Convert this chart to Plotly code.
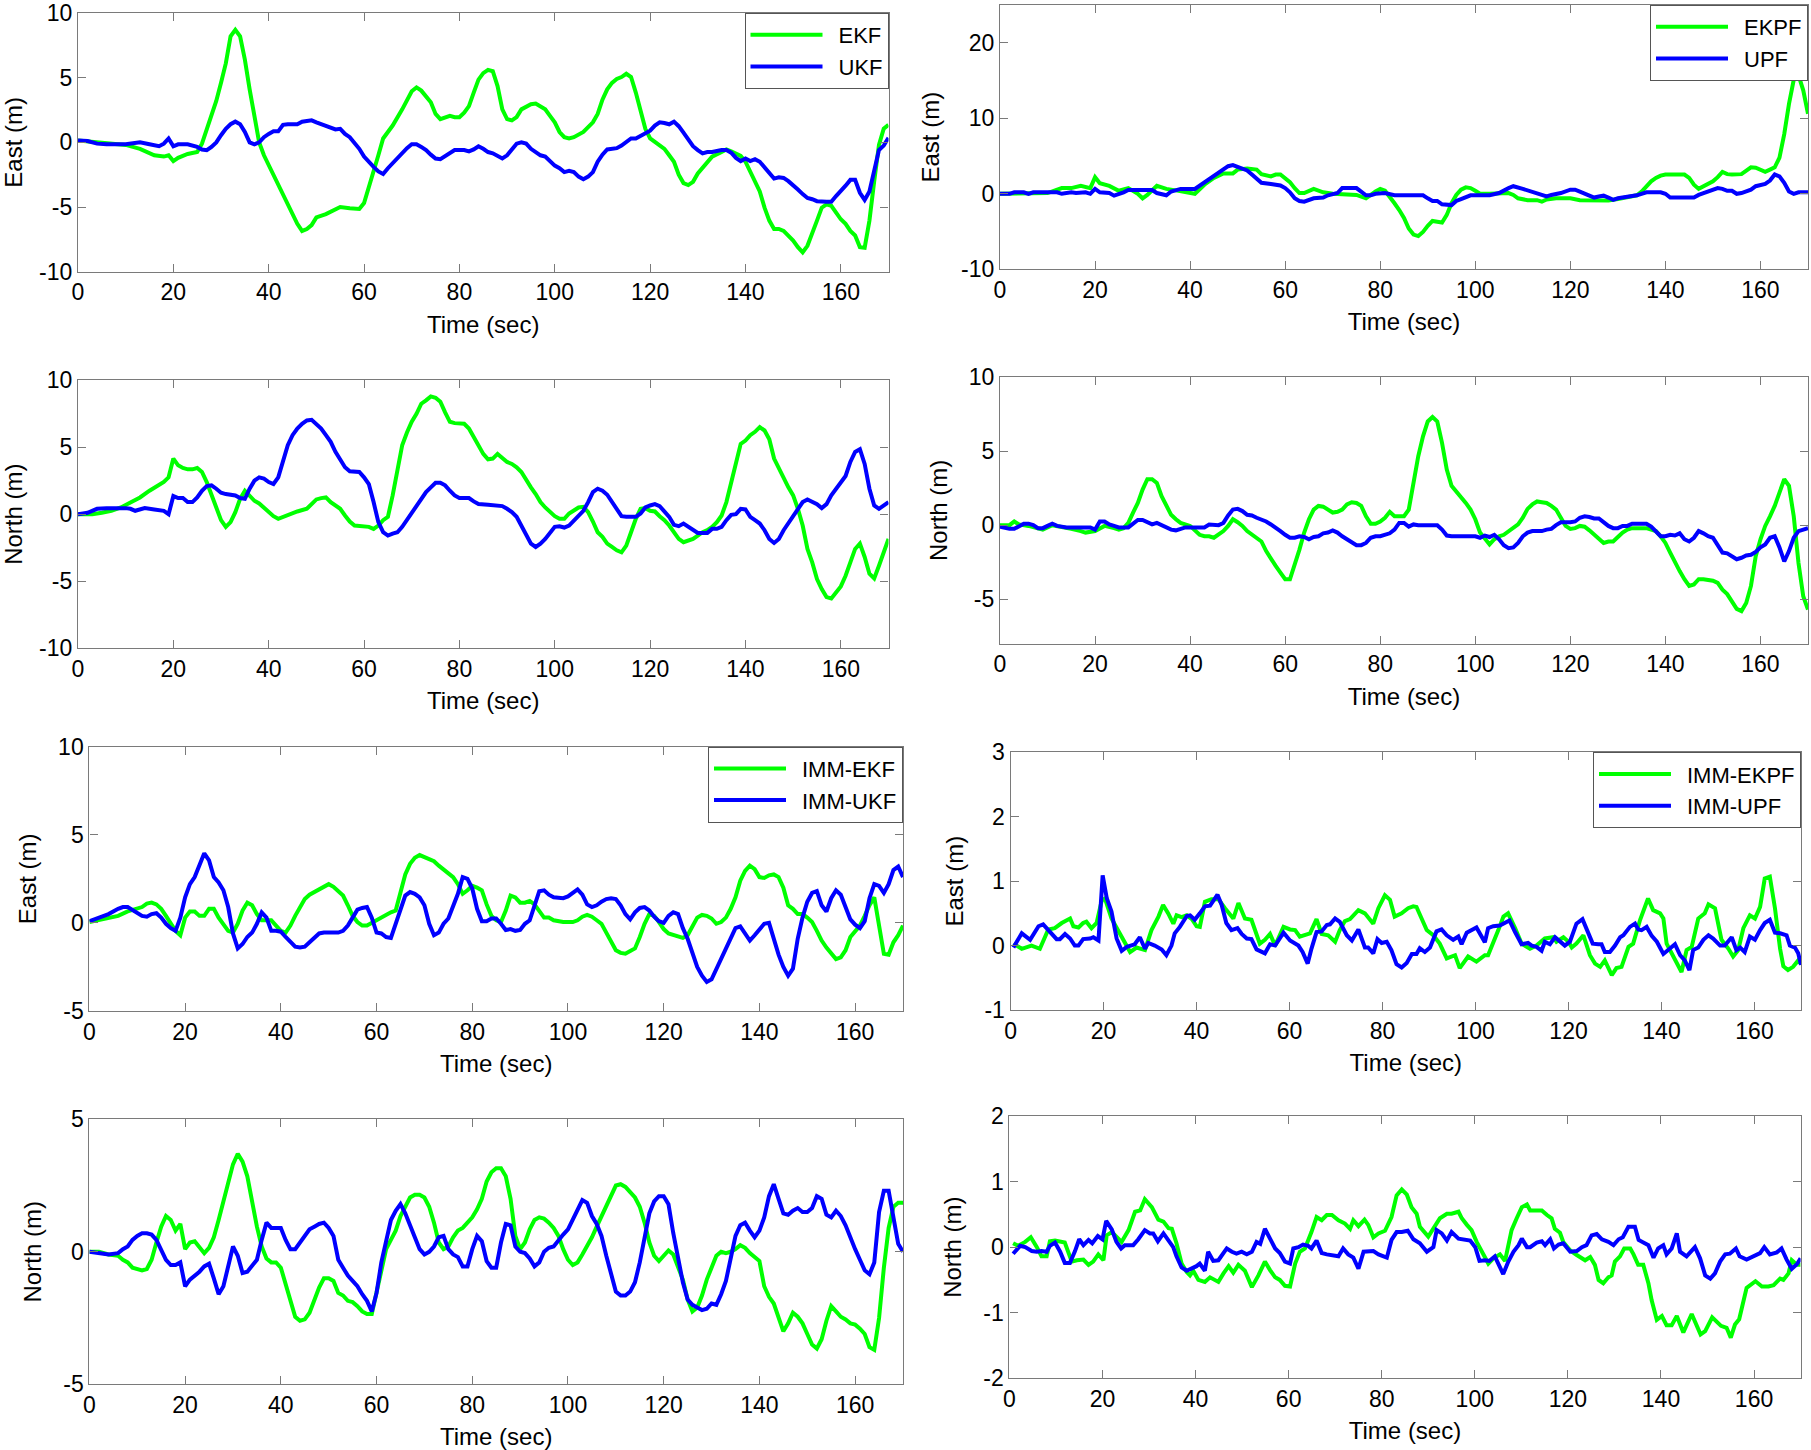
import plotly.graph_objects as go

# ---------------- data (time in s, error in m) ----------------
P1_EKF = [(0,0.15),(5,0.0),(10,-0.2),(13,-0.5),(16,-1.0),(18,-1.1),(19,-1.0),(20,-1.45),(21,-1.2),(23,-0.9),
(25,-0.75),(26,-0.1),(27,1.0),(28,2.0),(29,3.2),(30,4.6),(31,6.1),(32,8.2),(33,8.7),(34,8.2),
(35,6.4),(36,4.1),(37,2.0),(38,0.0),(39,-1.0),(40,-1.75),(42,-3.3),(44,-4.8),(46,-6.3),(47,-6.85),
(48,-6.7),(49,-6.4),(50,-5.8),(52,-5.55),(53,-5.35),(55,-5.0),(57,-5.1),(59,-5.15),(60,-4.7),(61,-3.55),
(62,-2.25),(63,-1.0),(64,0.3),(66,1.3),(68,2.55),(70,3.95),(71,4.25),(72,4.0),(74,3.1),(75,2.2),
(76,1.8),(78,2.05),(79,1.95),(80,1.95),(81,2.3),(82,2.8),(83,3.85),(84,4.85),(85,5.35),(86,5.6),
(87,5.5),(88,4.35),(89,2.55),(90,1.8),(91,1.7),(92,1.95),(93,2.55),(95,2.95),(96,3.0),(97,2.8),
(98,2.55),(99,2.05),(100,1.55),(101,0.8),(102,0.4),(103,0.3),(104,0.4),(106,0.8),(108,1.55),(109,2.2),
(110,3.3),(111,4.1),(112,4.6),(113,4.9),(114,5.05),(115,5.3),(116,5.05),(117,3.85),(118,2.3),(119,1.05),
(120,0.3),(121,0.0),(122,-0.2),(123,-0.5),(124,-1.0),(125,-1.5),(126,-2.5),(127,-3.15),(128,-3.3),(129,-3.05),
(130,-2.4),(132,-1.5),(133,-1.1),(135,-0.75),(136,-0.55),(137,-0.7),(138,-0.85),(139,-1.05),(140,-1.5),(141,-2.25),
(142,-3.0),(143,-3.8),(144,-5.05),(145,-6.05),(146,-6.7),(147,-6.7),(148,-6.85),(149,-7.2),(150,-7.6),(151,-8.1),
(152,-8.5),(153,-8.0),(154,-7.1),(155,-6.05),(156,-5.05),(157,-4.8),(158,-4.9),(159,-5.45),(160,-5.95),(161,-6.3),
(162,-6.85),(163,-7.2),(164,-8.1),(165,-8.15),(166,-6.05),(167,-3.0),(168,-0.2),(169,1.05),(170,1.35)]

P1_UKF = [(0,0.15),(2,0.1),(4,-0.1),(6,-0.15),(10,-0.15),(12,-0.1),(13,0.0),(15,-0.15),(17,-0.3),(18,-0.1),
(19,0.3),(20,-0.3),(21,-0.15),(23,-0.15),(25,-0.35),(26,-0.55),(27,-0.6),(28,-0.35),(29,0.0),(30,0.55),
(31,1.05),(32,1.4),(33,1.6),(34,1.4),(35,0.8),(36,0.0),(37,-0.15),(38,0.0),(39,0.4),(40,0.65),
(41,0.85),(42,0.85),(43,1.35),(44,1.4),(46,1.4),(47,1.6),(49,1.7),(50,1.55),(52,1.25),(54,1.0),
(55,1.05),(56,0.65),(57,0.4),(58,0.0),(59,-0.5),(60,-1.1),(61,-1.55),(62,-1.9),(63,-2.25),(64,-2.45),
(65,-2.0),(66,-1.6),(67,-1.25),(68,-0.75),(69,-0.45),(70,-0.15),(71,-0.15),(72,-0.35),(73,-0.6),(74,-0.95),
(75,-1.25),(76,-1.3),(77,-1.05),(78,-0.85),(79,-0.6),(81,-0.6),(82,-0.7),(83,-0.55),(84,-0.3),(85,-0.5),
(86,-0.75),(87,-0.85),(88,-1.05),(89,-1.25),(90,-1.0),(91,-0.6),(92,-0.1),(93,0.0),(94,-0.1),(95,-0.5),
(96,-0.75),(97,-1.0),(98,-1.1),(99,-1.5),(100,-1.8),(101,-2.0),(102,-2.3),(103,-2.2),(104,-2.3),(105,-2.65),
(106,-2.85),(107,-2.65),(108,-2.3),(109,-1.5),(110,-0.95),(111,-0.55),(113,-0.45),(114,-0.25),(115,0.0),(116,0.3),
(117,0.3),(118,0.5),(119,0.65),(120,0.9),(121,1.3),(122,1.55),(123,1.5),(124,1.4),(125,1.6),(126,1.25),
(127,0.75),(128,0.25),(129,-0.3),(130,-0.6),(131,-0.85),(132,-0.75),(133,-0.75),(135,-0.6),(136,-0.6),(137,-0.8),
(138,-1.2),(139,-1.45),(140,-1.25),(141,-1.45),(142,-1.3),(143,-1.5),(144,-1.9),(145,-2.4),(146,-2.8),(147,-2.7),
(148,-2.75),(149,-3.0),(150,-3.3),(151,-3.65),(152,-4.0),(153,-4.3),(154,-4.4),(155,-4.55),(157,-4.6),(158,-4.6),
(159,-4.15),(160,-3.8),(161,-3.35),(162,-2.9),(163,-2.9),(164,-3.9),(165,-4.45),(166,-3.8),(167,-2.25),(168,-0.6),
(169,-0.25),(170,0.35)]

P2_EKPF = [(0,0),(5,0),(10,0.1),(13,0.75),(15,0.75),(17,1.05),(19,0.75),(20,2.2),(21,1.4),(23,1.05),
(25,0.4),(27,0.75),(29,0),(30,-0.6),(31,-0.15),(33,1.05),(35,0.65),(37,0.45),(40,0.2),(41,0),
(43,1.2),(45,2.1),(47,2.7),(49,2.7),(50,3.2),(52,3.35),(54,3.2),(55,2.6),(57,2.3),(58,2.55),
(59,2.55),(60,2.1),(61,1.55),(62,0.75),(63,0.1),(64,0.1),(66,0.65),(68,0.2),(70,0),(75,-0.15),
(77,-0.6),(79,0.3),(80,0.65),(81,0.4),(82,-0.35),(83,-1.25),(84,-2.15),(85,-3.2),(86,-4.6),(87,-5.4),
(88,-5.6),(89,-5.05),(90,-4.25),(91,-3.6),(92,-3.7),(93,-3.8),(94,-2.8),(95,-1.25),(96,-0.15),(97,0.55),
(98,0.85),(99,0.75),(100,0.4),(101,0),(103,0),(105,0),(107,0.1),(108,-0.15),(109,-0.6),(111,-0.85),
(113,-0.85),(114,-1.05),(115,-0.75),(117,-0.6),(120,-0.6),(122,-0.85),(125,-0.9),(128,-0.9),(130,-0.7),(132,-0.5),
(134,-0.2),(135,0.3),(136,1.0),(137,1.65),(138,2.1),(139,2.4),(140,2.55),(142,2.55),(144,2.55),(145,2.1),
(146,1.2),(147,0.65),(148,1.0),(149,1.2),(150,1.65),(151,2.2),(152,2.9),(153,2.6),(154,2.55),(156,2.6),
(158,3.5),(159,3.45),(160,3.2),(161,2.9),(162,3.2),(163,3.5),(164,4.8),(165,7.9),(166,11.9),(167,15.1),
(168,15.7),(169,13.7),(170,10.6)]

P2_UPF = [(0,0),(2,0),(3,0.2),(5,0.2),(6,0),(7,0.2),(12,0.2),(13,0),(15,0.2),(16,0.1),
(18,0.2),(19,0),(20,0.65),(21,0.2),(23,0.1),(24,-0.25),(26,0.2),(27,0.5),(30,0.5),(32,0.5),
(33,0.1),(35,-0.2),(36,0.3),(38,0.65),(41,0.65),(42,1.1),(44,1.9),(46,2.75),(48,3.65),(49,3.8),
(50,3.55),(52,3.1),(53,2.55),(54,2.0),(55,1.45),(57,1.3),(59,1.1),(60,0.75),(61,0.2),(62,-0.6),
(63,-0.95),(64,-1.05),(65,-0.8),(66,-0.6),(68,-0.5),(69,-0.2),(71,0.1),(72,0.75),(75,0.75),(76,0.2),
(77,-0.2),(78,-0.2),(79,0),(81,0.1),(83,-0.2),(86,-0.2),(89,-0.2),(90,-0.6),(91,-0.95),(92,-0.95),
(93,-1.4),(95,-1.5),(96,-0.95),(97,-0.7),(99,-0.2),(103,-0.2),(105,0.1),(107,0.75),(108,1.0),(110,0.65),
(112,0.2),(114,-0.15),(115,-0.35),(116,-0.15),(118,0.1),(120,0.55),(121,0.55),(122,0.3),(124,-0.15),(125,-0.5),
(126,-0.35),(127,-0.25),(128,-0.5),(129,-0.8),(130,-0.6),(132,-0.35),(134,-0.2),(136,0.2),(139,0.2),(140,0),
(141,-0.5),(143,-0.5),(146,-0.5),(147,-0.15),(149,0.3),(151,0.75),(152,0.65),(153,0.4),(154,0.4),(155,0),
(156,0.1),(158,0.55),(159,1.0),(161,1.3),(162,1.75),(163,2.55),(164,2.3),(165,1.45),(166,0.3),(167,0),
(168,0.2),(170,0.2)]

P3_EKF = [(0,0),(3,0),(5,0.1),(7,0.25),(9,0.5),(11,0.9),(13,1.25),(15,1.75),(17,2.15),(18,2.4),
(19,2.75),(20,4.15),(21,3.65),(22,3.45),(23,3.35),(24,3.35),(25,3.45),(26,3.15),(27,2.4),(28,1.4),
(29,0.4),(30,-0.45),(31,-0.95),(32,-0.6),(33,0.15),(34,1.15),(35,1.75),(36,1.4),(37,1.0),(38,0.8),
(40,0.2),(41,-0.15),(42,-0.35),(43,-0.2),(45,0.05),(46,0.2),(48,0.4),(50,1.1),(51,1.2),(52,1.25),
(53,0.9),(55,0.4),(56,-0.1),(57,-0.55),(58,-0.85),(60,-0.9),(61,-0.95),(62,-1.1),(63,-0.85),(64,-0.45),
(65,-0.2),(66,1.4),(67,3.4),(68,5.15),(69,6.1),(70,6.9),(71,7.5),(72,8.25),(73,8.5),(74,8.8),
(75,8.7),(76,8.4),(77,7.6),(78,6.9),(79,6.8),(80,6.8),(81,6.75),(82,6.4),(83,5.75),(84,5.15),
(85,4.5),(86,4.1),(87,4.15),(88,4.5),(89,4.15),(90,3.9),(91,3.75),(92,3.5),(93,3.15),(94,2.5),
(95,2.0),(96,1.5),(97,0.9),(98,0.5),(99,0.15),(100,-0.15),(101,-0.35),(102,-0.35),(103,0.05),(104,0.25),
(105,0.5),(106,0.55),(107,0.15),(108,-0.55),(109,-1.35),(110,-1.7),(111,-2.2),(112,-2.45),(113,-2.7),(114,-2.85),
(115,-2.35),(116,-1.35),(117,-0.35),(118,0.4),(119,0.45),(120,0.25),(121,0.2),(122,-0.15),(123,-0.45),(124,-0.85),
(125,-1.4),(126,-1.85),(127,-2.1),(128,-1.95),(129,-1.85),(130,-1.6),(131,-1.35),(132,-1.2),(133,-0.95),(134,-0.6),
(135,-0.1),(136,0.9),(137,2.4),(138,3.65),(139,5.25),(140,5.5),(141,5.9),(142,6.15),(143,6.5),(144,6.25),
(145,5.6),(146,4.15),(147,3.4),(148,2.65),(149,2.0),(150,1.4),(151,0.4),(152,-0.85),(153,-2.6),(154,-3.6),
(155,-4.85),(156,-5.6),(157,-6.2),(158,-6.3),(159,-5.85),(160,-5.4),(161,-4.6),(162,-3.6),(163,-2.6),(164,-2.2),
(165,-3.2),(166,-4.45),(167,-4.8),(168,-3.85),(169,-2.85),(170,-1.85)]

P3_UKF = [(0,0),(2,0.1),(4,0.4),(6,0.45),(10,0.45),(11,0.4),(12,0.25),(14,0.45),(16,0.35),(18,0.25),
(19,0),(20,1.35),(21,1.2),(22,1.2),(23,0.9),(24,0.9),(25,1.25),(26,1.75),(27,2.1),(28,2.15),
(29,1.9),(30,1.6),(31,1.5),(32,1.45),(33,1.4),(34,1.2),(35,1.15),(36,1.9),(37,2.5),(38,2.75),
(39,2.65),(40,2.4),(41,2.25),(42,2.75),(43,3.9),(44,5.15),(45,5.9),(46,6.4),(47,6.75),(48,7.0),
(49,7.05),(50,6.75),(51,6.4),(52,5.9),(53,5.4),(54,4.65),(55,4.0),(56,3.5),(57,3.2),(58,3.2),
(59,3.15),(60,2.75),(61,2.25),(62,0.9),(63,-0.6),(64,-1.35),(65,-1.6),(66,-1.45),(67,-1.35),(68,-0.95),
(69,-0.45),(70,0.15),(71,0.65),(72,1.15),(73,1.65),(74,2.0),(75,2.35),(76,2.35),(77,2.15),(78,1.75),
(79,1.4),(80,1.2),(82,1.2),(83,0.95),(84,0.75),(86,0.7),(87,0.65),(89,0.6),(90,0.4),(91,0.15),
(92,-0.2),(93,-0.85),(94,-1.6),(95,-2.2),(96,-2.45),(97,-2.2),(98,-1.85),(99,-1.45),(100,-0.95),(101,-0.9),
(102,-1.0),(103,-0.85),(104,-0.45),(105,-0.05),(106,0.25),(107,0.9),(108,1.65),(109,1.9),(110,1.75),(111,1.45),
(112,0.9),(113,0.4),(114,-0.15),(115,-0.2),(117,-0.2),(118,0.05),(119,0.5),(120,0.65),(121,0.75),(122,0.6),
(123,0.25),(124,-0.2),(125,-0.8),(126,-0.9),(127,-0.7),(128,-0.95),(129,-1.2),(130,-1.4),(132,-1.4),(133,-1.1),
(134,-1.1),(135,-0.95),(136,-0.45),(137,-0.05),(138,0.0),(139,0.4),(140,0.35),(141,-0.2),(142,-0.45),(143,-0.7),
(144,-1.2),(145,-1.85),(146,-2.15),(147,-1.85),(148,-1.2),(149,-0.7),(150,-0.2),(151,0.4),(152,0.9),(153,1.1),
(154,0.95),(155,0.75),(156,0.45),(157,0.75),(158,1.4),(159,1.9),(160,2.4),(161,2.85),(162,3.9),(163,4.65),
(164,4.85),(165,3.75),(166,1.9),(167,0.65),(168,0.4),(169,0.65),(170,0.9)]

P4_EKPF = [(0,0),(2,0),(3,0.25),(4,0.05),(6,-0.05),(8,-0.25),(9,-0.3),(11,0),(13,-0.1),(15,-0.25),
(17,-0.4),(18,-0.5),(20,-0.4),(21,-0.2),(22,-0.05),(24,-0.2),(25,-0.3),(26,-0.2),(27,0.15),(28,0.85),
(29,1.5),(30,2.4),(31,3.1),(32,3.1),(33,2.85),(34,1.95),(35,1.3),(36,0.7),(37,0.4),(38,0.15),
(40,-0.05),(41,-0.4),(42,-0.65),(43,-0.75),(44,-0.75),(45,-0.85),(46,-0.65),(47,-0.4),(48,-0.05),(49,0.4),
(50,0.2),(51,-0.05),(52,-0.4),(53,-0.65),(54,-0.85),(55,-1.1),(56,-1.75),(57,-2.3),(58,-2.75),(59,-3.2),
(60,-3.65),(61,-3.65),(62,-2.75),(63,-1.65),(64,-0.5),(65,0.4),(66,1.05),(67,1.3),(68,1.25),(69,1.05),
(70,0.85),(71,0.9),(72,1.05),(73,1.4),(74,1.55),(75,1.5),(76,1.3),(77,0.6),(78,0.1),(79,0.1),
(80,0.25),(81,0.5),(82,0.9),(83,0.6),(84,0.6),(85,0.6),(86,1.05),(87,2.85),(88,4.65),(89,6.0),
(90,7.0),(91,7.3),(92,7.0),(93,5.55),(94,3.75),(95,2.65),(96,2.3),(97,1.95),(98,1.5),(99,1.05),
(100,0.4),(101,-0.5),(102,-0.95),(103,-1.3),(104,-0.95),(105,-0.75),(106,-0.65),(107,-0.4),(108,-0.2),(109,0.05),
(110,0.5),(111,1.1),(112,1.4),(113,1.6),(114,1.55),(115,1.5),(116,1.3),(117,1.05),(118,0.5),(119,-0.05),
(120,-0.25),(121,-0.2),(122,-0.05),(123,-0.1),(124,-0.35),(125,-0.65),(126,-0.95),(127,-1.2),(128,-1.1),(129,-1.1),
(130,-0.8),(131,-0.5),(132,-0.3),(133,-0.2),(136,-0.2),(137,-0.3),(138,-0.4),(139,-0.75),(140,-1.2),(141,-1.85),
(142,-2.55),(143,-3.1),(144,-3.65),(145,-4.1),(146,-4.0),(147,-3.65),(148,-3.65),(150,-3.75),(151,-3.9),(152,-4.35),
(153,-4.65),(154,-5.1),(155,-5.65),(156,-5.8),(157,-5.25),(158,-4.1),(159,-2.1),(160,-0.95),(161,-0.05),(162,0.6),
(163,1.3),(164,2.2),(165,3.1),(166,2.65),(167,0.6),(168,-2.55),(169,-4.8),(170,-5.7)]

P4_UPF = [(0,-0.1),(2,-0.25),(3,-0.25),(4,-0.05),(5,0.1),(6,0.1),(7,0),(8,-0.2),(9,-0.2),(10,-0.05),
(11,0.1),(12,-0.05),(14,-0.15),(17,-0.15),(19,-0.15),(20,-0.3),(21,0.25),(22,0.25),(23,0.05),(24,-0.05),
(25,-0.15),(27,-0.15),(28,0.1),(29,0.35),(30,0.35),(31,0.2),(32,0.05),(33,0.15),(34,0),(35,-0.1),
(36,-0.3),(37,-0.35),(38,-0.25),(39,-0.15),(43,-0.15),(44,0.05),(46,0),(47,0.15),(48,0.65),(49,1.05),
(50,1.1),(51,0.95),(52,0.7),(53,0.65),(54,0.5),(55,0.4),(56,0.25),(57,0.05),(58,-0.15),(59,-0.4),
(60,-0.65),(61,-0.85),(62,-0.85),(63,-0.75),(64,-0.8),(65,-0.95),(66,-0.8),(67,-0.75),(68,-0.55),(69,-0.5),
(70,-0.35),(71,-0.5),(72,-0.75),(73,-0.95),(74,-1.2),(75,-1.35),(76,-1.35),(77,-1.2),(78,-0.85),(79,-0.75),
(80,-0.75),(81,-0.65),(82,-0.55),(83,-0.3),(84,0.15),(85,0.15),(86,-0.1),(87,0.05),(88,0),(92,0),
(93,-0.3),(94,-0.7),(95,-0.75),(100,-0.75),(101,-0.85),(102,-0.7),(103,-0.8),(104,-0.65),(105,-0.95),(106,-1.35),
(107,-1.55),(108,-1.5),(109,-1.2),(110,-0.75),(111,-0.5),(112,-0.4),(114,-0.4),(115,-0.3),(116,-0.25),(117,0),
(118,0.2),(120,0.2),(121,0.25),(122,0.5),(123,0.6),(124,0.55),(125,0.45),(126,0.45),(127,0.2),(128,-0.05),
(129,-0.2),(130,-0.2),(131,-0.05),(132,-0.05),(133,0.1),(136,0.1),(137,-0.1),(138,-0.4),(139,-0.75),(140,-0.75),
(141,-0.65),(142,-0.7),(143,-0.55),(144,-0.95),(145,-1.1),(146,-0.85),(147,-0.4),(148,-0.55),(149,-0.75),(150,-0.85),
(151,-1.35),(152,-1.85),(153,-1.9),(154,-2.1),(155,-2.3),(156,-2.2),(157,-2.05),(158,-2.0),(159,-1.8),(160,-1.5),
(161,-1.3),(162,-0.85),(163,-0.75),(164,-1.5),(165,-2.45),(166,-1.75),(167,-0.85),(168,-0.4),(169,-0.3),(170,-0.2)]

P5_EKF = [(0,0.05),(2,0.15),(4,0.25),(6,0.4),(8,0.65),(10,0.8),(11,0.9),(12,1.1),(13,1.15),(14,1.05),
(15,0.8),(16,0.4),(17,-0.05),(18,-0.45),(19,-0.7),(20,0.3),(21,0.65),(22,0.65),(23,0.4),(24,0.4),
(25,0.8),(26,0.8),(27,0.3),(28,-0.05),(29,-0.45),(30,-0.55),(31,-0.05),(32,0.7),(33,1.15),(34,1.0),
(35,0.5),(36,0.15),(38,0.15),(39,-0.15),(40,-0.45),(41,-0.55),(42,-0.15),(43,0.4),(44,0.9),(45,1.35),
(46,1.6),(47,1.75),(48,1.9),(49,2.1),(50,2.2),(51,2.05),(52,1.8),(53,1.55),(54,1.0),(55,0.4),
(56,0.05),(57,-0.15),(58,-0.15),(59,0),(60,0.15),(61,0.3),(62,0.5),(63,0.6),(64,0.7),(65,1.8),
(66,2.75),(67,3.35),(68,3.7),(69,3.85),(70,3.75),(71,3.6),(72,3.5),(73,3.25),(74,3.05),(75,2.85),
(76,2.6),(77,2.2),(78,1.65),(79,1.85),(80,2.1),(81,2.0),(82,1.85),(83,1.05),(84,0.4),(85,0.15),
(86,0.05),(87,0.7),(88,1.55),(89,1.45),(90,1.15),(91,1.15),(92,1.25),(93,1.05),(94,0.7),(95,0.3),
(96,0.3),(97,0.15),(99,0.05),(101,0.05),(102,0.15),(103,0.35),(104,0.45),(105,0.35),(106,0.15),(107,-0.05),
(108,-0.55),(109,-1.1),(110,-1.55),(111,-1.7),(112,-1.75),(113,-1.6),(114,-1.45),(115,-0.8),(116,-0.05),(117,0.5),
(118,0.4),(119,0.05),(120,-0.35),(121,-0.6),(122,-0.7),(123,-0.75),(124,-0.85),(125,-0.7),(126,-0.25),(127,0.3),
(128,0.45),(129,0.4),(130,0.25),(131,-0.05),(132,0.05),(133,0.3),(134,0.8),(135,1.45),(136,2.4),(137,2.95),
(138,3.25),(139,3.05),(140,2.6),(141,2.55),(142,2.7),(143,2.75),(144,2.6),(145,2.0),(146,1.0),(147,0.8),
(148,0.5),(149,0.5),(150,0.3),(151,0.05),(152,-0.45),(153,-1.0),(154,-1.4),(155,-1.75),(156,-2.05),(157,-1.95),
(158,-1.55),(159,-0.8),(160,-0.45),(161,-0.15),(162,0.4),(163,1.0),(164,1.45),(165,-0.05),(166,-1.75),(167,-1.8),
(168,-1.1),(169,-0.7),(170,-0.15)]

P5_UKF = [(0,0.1),(2,0.3),(4,0.5),(6,0.8),(7,0.9),(8,0.9),(9,0.75),(10,0.55),(11,0.4),(12,0.35),
(13,0.5),(14,0.55),(15,0.3),(16,-0.05),(17,-0.3),(18,-0.45),(19,0.3),(20,1.45),(21,2.2),(22,2.6),
(23,3.35),(24,3.95),(25,3.55),(26,2.6),(27,2.3),(28,1.85),(29,0.9),(30,-0.6),(31,-1.45),(32,-1.2),
(33,-0.8),(34,-0.55),(35,-0.05),(36,0.6),(37,0.3),(38,-0.45),(39,-0.45),(40,-0.5),(41,-0.8),(42,-1.1),
(43,-1.35),(44,-1.4),(45,-1.35),(46,-1.1),(47,-0.85),(48,-0.6),(49,-0.55),(52,-0.55),(53,-0.45),(54,-0.15),
(55,0.3),(56,0.75),(57,0.85),(58,0.9),(59,0.3),(60,-0.55),(61,-0.6),(62,-0.8),(63,-0.85),(64,-0.05),
(65,0.7),(66,1.55),(67,1.75),(68,1.65),(69,1.45),(70,1.0),(71,-0.05),(72,-0.7),(73,-0.55),(74,-0.05),
(75,0.25),(76,1.0),(77,1.65),(78,2.6),(79,2.5),(80,1.95),(81,0.8),(82,0.1),(83,0.1),(84,0.25),
(85,0.25),(86,-0.05),(87,-0.4),(88,-0.35),(89,-0.45),(90,-0.4),(91,-0.05),(92,0.15),(93,0.9),(94,1.8),
(95,1.85),(96,1.6),(97,1.45),(98,1.4),(99,1.4),(100,1.5),(101,1.7),(102,1.9),(103,1.6),(104,1.05),
(105,0.9),(106,1.0),(107,1.2),(108,1.35),(109,1.4),(110,1.35),(111,1.0),(112,0.5),(113,0.2),(114,0.6),
(115,0.85),(116,0.9),(117,0.7),(118,0.35),(119,0.1),(120,0.0),(121,0.4),(122,0.6),(123,0.5),(124,-0.3),
(125,-0.9),(126,-1.7),(127,-2.5),(128,-3.0),(129,-3.35),(130,-3.2),(131,-2.6),(132,-2.0),(133,-1.5),(134,-0.8),
(135,-0.3),(136,-0.2),(137,-0.6),(138,-1.0),(139,-0.7),(140,-0.4),(141,-0.05),(142,0.0),(143,-0.9),(144,-1.8),
(145,-2.5),(146,-3.0),(147,-2.6),(148,-0.9),(149,0.3),(150,1.2),(151,1.7),(152,1.8),(153,1.0),(154,0.65),
(155,1.4),(156,1.85),(157,1.6),(158,0.9),(159,0.2),(160,-0.1),(161,-0.3),(162,0.1),(163,1.4),(164,2.2),
(165,2.1),(166,1.7),(167,2.2),(168,3.0),(169,3.2),(170,2.6)]

P6_EKPF = [(0.6,0.03),(2.4,-0.05),(4.5,0.0),(6.3,-0.05),(8.1,0.25),(9.5,0.27),(11,0.35),(12.8,0.42),(13.5,0.3),(14.6,0.28),
(15.6,0.35),(16.3,0.37),(17.4,0.27),(18.5,0.35),(19.6,0.7),(20.3,0.73),(21.7,0.42),(23.5,0.19),(24.6,0.03),(25.7,-0.1),
(27.1,-0.03),(28.9,-0.07),(30.3,0.24),(31.8,0.45),(32.8,0.63),(33.9,0.5),(35,0.34),(35.7,0.47),(36.8,0.44),(37.9,0.47),
(39,0.41),(40,0.3),(40.7,0.29),(41.8,0.68),(43.2,0.72),(44.7,0.72),(46.1,0.58),(47.9,0.42),(49,0.66),(50.4,0.42),
(51.8,0.4),(53.6,0.03),(54.7,0.09),(55.8,0.18),(56.9,0),(58.7,0.29),(60.1,0.25),(61.2,0.24),(62.2,0.14),(63.3,0.16),
(64.4,0.19),(65.8,0.41),(66.9,0.18),(68.3,0.16),(69.8,0.06),(70.8,0.24),(71.9,0.38),(73,0.41),(74.8,0.55),(76.2,0.5),
(78,0.34),(79.1,0.58),(80.5,0.78),(81.6,0.71),(82.6,0.45),(84.1,0.5),(85.5,0.58),(86.6,0.61),(87.3,0.6),(88.4,0.42),
(89.5,0.24),(90.9,0.16),(92.3,0.03),(93.8,-0.2),(95.6,-0.15),(96.6,-0.35),(98.4,-0.17),(100.2,-0.25),(102,-0.15),(102.7,-0.15),
(103.8,0.03),(104.9,0.24),(106,0.45),(107,0.5),(108.5,0.27),(109.9,0.03),(111.7,-0.05),(113.1,0),(114.9,0.11),(116.7,0.13),
(117.4,0.06),(118.9,0.13),(120,0.06),(120.7,-0.03),(121.7,0.03),(123.2,0.16),(124.6,-0.15),(125.7,-0.28),(126.8,-0.33),(127.8,-0.23),
(129.3,-0.46),(130.3,-0.35),(131.4,-0.33),(132.9,-0.02),(133.9,0.03),(135.4,0.4),(137.1,0.73),(138.2,0.55),(139.7,0.5),(140.4,0.42),
(141.1,0.03),(142.5,-0.17),(144.3,-0.41),(145.4,-0.07),(146.5,-0.02),(147.9,0.42),(149.3,0.5),(150.1,0.64),(151.5,0.58),(152.9,0.09),
(154.4,-0.05),(155.4,-0.17),(156.5,-0.07),(157.6,0.27),(159,0.47),(160.1,0.42),(161.2,0.6),(162.2,1.04),(163.3,1.07),(164.4,0.58),
(165.5,-0.05),(166.2,-0.32),(167.2,-0.38),(168.3,-0.33),(169.4,-0.23),(170,-0.28)]

P6_UPF = [(0.6,-0.03),(2.4,0.19),(4.2,0.09),(6,0.3),(7,0.33),(8.1,0.24),(9.9,0.1),(10.6,0.1),(11.7,0.18),(12.8,0.11),
(13.8,0),(14.6,0),(15.6,0.1),(17.1,0.11),(17.8,0.13),(18.9,0.08),(19.8,1.09),(20.7,0.73),(21.7,0.53),(22.8,0.11),
(23.9,-0.08),(25,-0.02),(25.7,0),(26.7,0.02),(27.8,0.13),(28.9,-0.05),(29.6,0.04),(31,0),(32.5,-0.06),(33.5,-0.15),
(34.6,0),(35.3,0.19),(36.4,0.29),(37.9,0.46),(38.6,0.47),(39.6,0.4),(40.7,0.5),(41.8,0.61),(42.9,0.62),(44.5,0.79),
(45.4,0.63),(46.4,0.35),(47.5,0.24),(48.8,0.27),(49.7,0.18),(50.8,0.11),(51.8,0.1),(52.9,-0.06),(54.7,-0.12),(55.8,0.02),
(56.9,0),(58.7,0.2),(60.1,0.08),(61.9,0),(62.8,-0.1),(63.9,-0.28),(64.7,-0.05),(65.8,0.21),(66.9,0.22),(68,0.32),
(68.7,0.33),(69.8,0.42),(70.8,0.37),(72.3,0.16),(73.4,0.08),(74.8,0.25),(76.2,-0.03),(76.9,-0.03),(78,-0.12),(78.9,0.1),
(79.8,0.04),(80.9,0.06),(81.9,-0.07),(83,-0.29),(84.1,-0.34),(85.2,-0.27),(86.3,-0.13),(87.3,-0.13),(88,-0.04),(89.1,-0.1),
(90.2,-0.03),(91.6,0.22),(92.7,0.25),(93.8,0.16),(95.2,0.09),(96.3,0.14),(97,0.02),(98.1,0.2),(100.2,0.28),(102,0.05),
(102.7,0.27),(103.8,0.3),(105.2,0.31),(106.3,0.35),(107.3,0.39),(108.5,0.21),(109.9,0.02),(111.3,0.04),(112.1,0),(113.1,-0.02),
(114.2,-0.08),(114.9,0.06),(116,0.02),(117.1,0.13),(118.1,0.06),(119.2,0),(120.3,0.06),(121.7,0.34),(123,0.41),(123.9,0.24),
(125.2,0.03),(126.4,0.02),(127.1,0.02),(127.8,-0.1),(128.9,-0.1),(130,0),(131.1,0.13),(131.8,0.16),(133.2,0.29),(134.3,0.34),
(135,0.25),(135.7,0.24),(136.8,0.29),(137.9,0.15),(139,0.06),(140.4,-0.13),(141.4,-0.07),(142.9,0.02),(144,-0.15),(145,-0.23),
(146,-0.38),(146.8,-0.07),(147.9,-0.03),(149,0.09),(150.1,0.16),(151.1,0.11),(152.6,0),(153.6,0),(155.1,0.13),(156.1,-0.07),
(156.9,-0.03),(157.9,-0.1),(159,0.14),(160.1,0.09),(161.2,0.24),(162.2,0.35),(163.3,0.4),(164.4,0.2),(165.5,0.19),(166.9,0.16),
(167.6,0),(168.7,-0.03),(169.4,-0.12),(170,-0.3)]

P7_EKF = [(0,0),(2,0),(4,-0.1),(6,-0.15),(7,-0.3),(8,-0.4),(9,-0.6),(10,-0.65),(11,-0.7),(12,-0.65),
(13,-0.3),(14,0.35),(15,0.95),(16,1.35),(17,1.2),(18,0.8),(19,1.05),(20,0.1),(21,0.35),(22,0.4),
(23,0.2),(24,-0.05),(25,0.15),(26,0.55),(27,1.2),(28,1.95),(29,2.6),(30,3.3),(31,3.7),(32,3.4),
(33,2.85),(34,1.85),(35,0.95),(36,0.2),(37,-0.25),(38,-0.4),(39,-0.4),(40,-0.6),(41,-1.2),(42,-1.8),
(43,-2.45),(44,-2.6),(45,-2.55),(46,-2.3),(47,-1.8),(48,-1.35),(49,-1.0),(50,-1.0),(51,-1.1),(52,-1.55),
(53,-1.65),(54,-1.85),(55,-1.9),(56,-2.05),(57,-2.25),(58,-2.35),(59,-2.35),(60,-1.55),(61,-0.8),(62,0.1),
(63,0.45),(64,0.8),(65,1.35),(66,1.7),(67,2.05),(68,2.15),(69,2.15),(70,2.05),(71,1.7),(72,1.1),
(73,0.35),(74,0.1),(75,0.2),(76,0.55),(77,0.8),(78,0.9),(79,1.1),(80,1.3),(81,1.6),(82,2.0),
(83,2.65),(84,3.0),(85,3.15),(86,3.15),(87,2.85),(88,2.0),(89,0.6),(90,0.1),(91,0.35),(92,0.85),
(93,1.2),(94,1.3),(95,1.25),(96,1.1),(97,0.9),(98,0.6),(99,0.1),(100,-0.3),(101,-0.5),(102,-0.4),
(103,-0.1),(104,0.2),(105,0.55),(106,0.95),(107,1.35),(108,1.7),(109,2.1),(110,2.5),(111,2.55),(112,2.45),
(113,2.25),(114,2.05),(115,1.7),(116,1.1),(117,0.35),(118,-0.15),(119,-0.35),(120,-0.15),(121,0.05),(122,-0.1),
(123,-0.55),(124,-1.05),(125,-1.8),(126,-2.25),(127,-2.1),(128,-1.65),(129,-1.05),(130,-0.55),(131,-0.15),(132,0.0),
(133,-0.05),(134,0.0),(135,0.1),(136,0.25),(137,0.15),(138,-0.05),(139,-0.2),(140,-0.35),(141,-1.3),(142,-1.7),
(143,-1.95),(144,-2.5),(145,-3.0),(146,-2.7),(147,-2.3),(148,-2.45),(149,-2.7),(150,-3.1),(151,-3.5),(152,-3.65),
(153,-3.3),(154,-2.6),(155,-2.05),(156,-2.25),(157,-2.45),(158,-2.55),(159,-2.7),(160,-2.75),(161,-2.9),(162,-3.1),
(163,-3.6),(164,-3.7),(165,-2.5),(166,-0.6),(167,0.9),(168,1.7),(169,1.85),(170,1.85)]

P7_UKF = [(0,0),(2,-0.05),(4,-0.1),(6,-0.05),(7,0.1),(8,0.2),(9,0.45),(10,0.6),(11,0.7),(12,0.7),
(13,0.65),(14,0.45),(15,0.1),(16,-0.3),(17,-0.5),(18,-0.5),(19,-0.4),(20,-1.3),(21,-1.05),(22,-0.9),
(23,-0.75),(24,-0.55),(25,-0.45),(26,-1.0),(27,-1.6),(28,-1.3),(29,-0.55),(30,0.2),(31,-0.15),(32,-0.8),
(33,-0.75),(34,-0.55),(35,-0.3),(36,0.45),(37,1.1),(38,0.9),(40,0.9),(41,0.45),(42,0.1),(43,0.1),
(44,0.35),(45,0.6),(46,0.85),(47,0.95),(48,1.05),(49,1.1),(50,0.9),(51,0.6),(52,-0.3),(53,-0.6),
(54,-0.9),(55,-1.1),(56,-1.3),(57,-1.6),(58,-1.85),(59,-2.25),(60,-1.55),(61,-0.4),(62,0.35),(63,1.2),
(64,1.55),(65,1.8),(66,1.45),(67,0.95),(68,0.55),(69,0.1),(70,-0.1),(71,0),(72,0.2),(73,0.55),
(74,0.6),(75,0.1),(76,-0.1),(77,-0.2),(78,-0.55),(79,-0.55),(80,0.1),(81,0.6),(82,0.4),(83,-0.35),
(84,-0.6),(85,-0.6),(86,0.35),(87,1.05),(88,1.0),(89,0.2),(90,0),(91,-0.05),(92,-0.25),(93,-0.55),
(94,-0.4),(95,0),(96,0.15),(97,0.2),(98,0.45),(99,0.65),(100,0.85),(101,1.2),(102,1.6),(103,1.95),
(104,1.85),(105,1.35),(106,1.05),(107,0.6),(108,-0.15),(109,-0.9),(110,-1.5),(111,-1.65),(112,-1.65),(113,-1.5),
(114,-1.15),(115,-0.4),(116,0.6),(117,1.45),(118,1.9),(119,2.1),(120,2.1),(121,1.8),(122,0.7),(123,-0.3),
(124,-1.15),(125,-1.8),(126,-2.0),(127,-2.1),(128,-2.2),(129,-2.15),(130,-1.95),(131,-2.0),(132,-1.6),(133,-1.1),
(134,-0.3),(135,0.6),(136,1.0),(137,1.1),(138,0.8),(139,0.55),(140,0.8),(141,1.3),(142,2.1),(143,2.55),
(144,2.0),(145,1.45),(146,1.4),(147,1.55),(148,1.65),(149,1.5),(150,1.5),(151,1.65),(152,2.1),(153,2.0),
(154,1.4),(155,1.3),(156,1.55),(157,1.35),(158,1.0),(159,0.5),(160,0.1),(161,-0.3),(162,-0.7),(163,-0.85),
(164,-0.4),(165,1.5),(166,2.3),(167,2.3),(168,1.2),(169,0.3),(170,0.0)]

P8_EKPF = [(0.8,0.06),(1.9,0.02),(3.4,0.08),(4.6,0.15),(5.9,0),(6.9,-0.14),(8,-0.14),(8.7,0.09),(9.8,0.1),(11.2,0.08),
(11.9,0.07),(13.4,-0.22),(14.5,-0.2),(15.9,-0.19),(17,-0.27),(18,-0.22),(19.1,-0.11),(20.2,-0.2),(20.9,0.18),(22,0.23),
(23,0.15),(24.1,0.08),(25.6,0.26),(27,0.54),(28.1,0.56),(29.1,0.73),(30.6,0.61),(32,0.42),(33.1,0.39),(34.2,0.29),
(34.9,0.28),(35.9,0.06),(37,-0.25),(38.1,-0.38),(38.8,-0.43),(39.5,-0.36),(40.6,-0.5),(42,-0.53),(43.1,-0.46),(44.9,-0.53),
(46,-0.4),(47.1,-0.29),(48.1,-0.39),(49.2,-0.27),(50.6,-0.36),(52.1,-0.61),(53.5,-0.43),(54.9,-0.22),(56,-0.35),(57.1,-0.46),
(58.1,-0.5),(59.2,-0.59),(60.3,-0.6),(61.4,-0.25),(62.4,-0.07),(63.5,-0.02),(64.9,0.23),(66,0.46),(67.1,0.41),(68.2,0.49),
(69.3,0.49),(70.7,0.41),(72.1,0.36),(73.2,0.28),(73.9,0.41),(75,0.32),(76.3,0.42),(77.1,0.34),(78.2,0.15),(79.3,0.21),
(80.7,0.25),(82.1,0.46),(83.2,0.79),(84.3,0.88),(85.4,0.8),(86.4,0.61),(87.5,0.51),(88.2,0.31),(90,0.16),(91.1,0.28),
(92.5,0.44),(94,0.51),(95,0.51),(96.5,0.54),(97.2,0.44),(98.3,0.34),(99.3,0.26),(100.4,0.08),(101.8,-0.1),(102.9,-0.25),
(104,-0.17),(105.4,-0.11),(106.5,-0.21),(107.9,0.26),(109,0.44),(110.1,0.61),(111.2,0.65),(111.9,0.56),(113.3,0.56),(114.4,0.56),
(115.5,0.49),(116.5,0.44),(117.2,0.28),(118.3,0.22),(119,0.08),(120.5,-0.05),(121.9,-0.12),(123.7,-0.2),(124.8,-0.15),(125.8,-0.27),
(126.6,-0.5),(127.6,-0.55),(128.7,-0.46),(129.4,-0.43),(130.1,-0.22),(131.2,-0.14),(132.1,-0.02),(133.4,-0.02),(134.1,-0.11),(135.1,-0.27),
(136.2,-0.27),(137.3,-0.55),(138,-0.81),(139.1,-1.11),(140.2,-1.05),(141.2,-1.19),(142.3,-1.19),(143.4,-1.05),(144.8,-1.3),(146.6,-1.02),
(148.5,-1.33),(149.5,-1.28),(151,-1.07),(152.9,-1.2),(154.1,-1.23),(155,-1.38),(155.9,-1.18),(156.8,-1.1),(158.4,-0.62),(160.3,-0.52),
(161.7,-0.6),(163.1,-0.6),(164.2,-0.58),(165.6,-0.48),(166.3,-0.5),(167.4,-0.4),(168.1,-0.2),(169.2,-0.27),(170,-0.27)]

P8_UPF = [(0.8,-0.1),(2.3,0.02),(3.4,0),(4.8,-0.06),(5.9,-0.07),(6.9,-0.06),(8,-0.07),(8.7,0.02),(9.8,0.07),(10.9,-0.07),
(11.9,-0.24),(13,-0.24),(14.1,-0.06),(15,0.12),(15.9,0.03),(17,0.11),(17.8,0.06),(19,0.17),(20,0.12),(20.8,0.4),
(22,0.27),(23,0.08),(24,-0.02),(24.8,0.03),(26.6,0.03),(27.7,0.12),(29.1,0.26),(30.2,0.21),(30.9,0.21),(31.9,0.09),
(33.1,0.21),(34.2,0.11),(35.2,0),(35.9,-0.14),(37,-0.31),(38.1,-0.36),(39.2,-0.33),(40.2,-0.29),(40.9,-0.25),(42,-0.36),
(42.7,-0.07),(43.8,-0.21),(44.9,-0.2),(46.7,-0.02),(47.8,-0.07),(48.8,-0.1),(49.9,-0.07),(51,-0.11),(52.1,-0.07),(53.1,0.08),
(53.9,0.05),(54.9,0.28),(56,0.13),(57.1,-0.02),(58.1,-0.09),(59.2,-0.22),(60.3,-0.25),(61,-0.02),(62.1,0),(63.1,0.04),
(64.2,0.02),(64.9,-0.02),(66,0.1),(67.1,-0.09),(68.2,-0.11),(69.6,-0.12),(70.7,-0.14),(71.7,-0.02),(72.8,-0.11),(73.9,-0.16),
(75,-0.33),(76.1,-0.07),(77.1,-0.06),(78.2,-0.06),(79.3,-0.11),(80.4,-0.14),(81.1,-0.16),(82.1,0.11),(83.2,0.23),(84.3,0.23),
(85.6,0.25),(86.8,0.12),(88.2,0.06),(89.7,-0.07),(91.1,0),(91.8,0.26),(92.9,0.21),(94,0.1),(95,0.23),(96.5,0.13),
(97.9,0.11),(99,0.1),(100.1,0),(101,-0.21),(102.2,-0.2),(103.1,-0.21),(104.3,-0.14),(105.4,-0.29),(106.1,-0.41),(107.2,-0.22),
(108.3,-0.07),(109.4,0.03),(110.1,0.13),(111.2,0),(111.9,0),(113.3,0.07),(114.4,0.09),(115.1,0.03),(116.2,0.12),(117,-0.02),
(118,0.04),(119,0.06),(120.5,-0.07),(121.9,-0.06),(123,0),(124,0.03),(125.1,0.18),(126.2,0.2),(127.3,0.12),(128.7,0.08),
(129.8,0.03),(130.9,0.12),(131.8,0.15),(133,0.31),(134.4,0.31),(135.2,0.11),(136.2,0.07),(137.3,0.03),(138.4,-0.16),(139.4,-0.02),
(140.5,0.03),(141.2,-0.11),(142.3,-0.02),(143.4,0.21),(144.1,-0.07),(145.5,-0.14),(147.3,0),(148.4,-0.17),(149.5,-0.43),(150.6,-0.48),
(151.6,-0.4),(152.7,-0.22),(153.8,-0.11),(154.8,-0.1),(156.1,-0.02),(156.9,-0.14),(158.4,-0.19),(159.9,-0.14),(161.3,-0.09),(162.2,0),
(163.4,-0.11),(164.9,-0.08),(165.9,-0.02),(167,-0.19),(168.1,-0.33),(169.2,-0.26),(170,-0.17)]

X_TICKS = [0, 20, 40, 60, 80, 100, 120, 140, 160]
X_TITLE = "Time (sec)"

# ---------------- styling / layout ----------------
W, H = 1811, 1450
FONT = "Liberation Sans, Arial, Helvetica, sans-serif"
GREEN = "#00ff00"
BLUE = "#0000ff"
FRAME = "#7a7a7a"
LEG_GAP = "\u2002"   # small gap between legend swatch and label, as in the reference

def px_dom_x(a, b):
    return [a / W, b / W]

def px_dom_y(top, bottom):
    return [1 - bottom / H, 1 - top / H]

def ticklabels(vals):
    return [str(v) for v in vals]   # plain hyphen-minus, as in the reference

panels = [
    dict(x=(78, 888.5), y=(13, 271.7), yr=[-10, 10], yt=[-10, -5, 0, 5, 10], yl="East (m)",
         s=[(P1_EKF, "EKF", GREEN), (P1_UKF, "UKF", BLUE)], leg="legend"),
    dict(x=(1000, 1808), y=(5, 269.3), yr=[-10, 25], yt=[-10, 0, 10, 20], yl="East (m)",
         s=[(P2_EKPF, "EKPF", GREEN), (P2_UPF, "UPF", BLUE)], leg="legend2"),
    dict(x=(78, 888.5), y=(380.3, 648), yr=[-10, 10], yt=[-10, -5, 0, 5, 10], yl="North (m)",
         s=[(P3_EKF, "EKF", GREEN), (P3_UKF, "UKF", BLUE)], leg=None),
    dict(x=(1000, 1808), y=(377, 643.7), yr=[-8, 10], yt=[-5, 0, 5, 10], yl="North (m)",
         s=[(P4_EKPF, "EKPF", GREEN), (P4_UPF, "UPF", BLUE)], leg=None),
    dict(x=(89.4, 903), y=(746.7, 1011), yr=[-5, 10], yt=[-5, 0, 5, 10], yl="East (m)",
         s=[(P5_EKF, "IMM-EKF", GREEN), (P5_UKF, "IMM-UKF", BLUE)], leg="legend3"),
    dict(x=(1010.6, 1801), y=(752.3, 1010), yr=[-1, 3], yt=[-1, 0, 1, 2, 3], yl="East (m)",
         s=[(P6_EKPF, "IMM-EKPF", GREEN), (P6_UPF, "IMM-UPF", BLUE)], leg="legend4"),
    dict(x=(89.4, 903), y=(1119.3, 1384.3), yr=[-5, 5], yt=[-5, 0, 5], yl="North (m)",
         s=[(P7_EKF, "IMM-EKF", GREEN), (P7_UKF, "IMM-UKF", BLUE)], leg=None),
    dict(x=(1009.4, 1800.6), y=(1116, 1378.3), yr=[-2, 2], yt=[-2, -1, 0, 1, 2], yl="North (m)",
         s=[(P8_EKPF, "IMM-EKPF", GREEN), (P8_UPF, "IMM-UPF", BLUE)], leg=None),
]

fig = go.Figure()
layout = dict(
    template="none",
    width=W, height=H, margin=dict(l=0, r=0, t=0, b=0, pad=0, autoexpand=False),
    autosize=False,
    paper_bgcolor="white", plot_bgcolor="white",
    font=dict(family=FONT, size=23, color="black"),
    showlegend=True,
)

for i, p in enumerate(panels, start=1):
    xa = "xaxis" if i == 1 else f"xaxis{i}"
    ya = "yaxis" if i == 1 else f"yaxis{i}"
    xr = "x" if i == 1 else f"x{i}"
    yr = "y" if i == 1 else f"y{i}"
    common = dict(showline=True, linecolor=FRAME, linewidth=1.2, mirror="ticks",
                  ticks="inside", ticklen=8, tickcolor=FRAME, tickwidth=1.2,
                  showgrid=False, zeroline=False, automargin=False,
                  ticklabeloverflow="allow",
                  tickfont=dict(size=23, family=FONT, color="black"))
    layout[xa] = dict(domain=px_dom_x(*p["x"]), anchor=yr, range=[0, 170],
                      tickmode="array", tickvals=X_TICKS, ticktext=ticklabels(X_TICKS),
                      title=dict(text=X_TITLE, font=dict(size=24, family=FONT, color="black"), standoff=11),
                      **common)
    layout[ya] = dict(domain=px_dom_y(*p["y"]), anchor=xr, range=p["yr"],
                      tickmode="array", tickvals=p["yt"], ticktext=ticklabels(p["yt"]),
                      title=dict(text=p["yl"], font=dict(size=24, family=FONT, color="black"), standoff=14),
                      **common)
    for data, name, col in p["s"]:
        fig.add_trace(go.Scatter(
            x=[d[0] for d in data], y=[d[1] for d in data], mode="lines",
            name=(LEG_GAP + name) if p["leg"] else name,
            line=dict(color=col, width=4), xaxis=xr, yaxis=yr,
            showlegend=p["leg"] is not None, legend=p["leg"] or "legend"))
    if p["leg"]:
        x0, x1 = p["x"]
        y0, y1 = p["y"]
        layout[p["leg"]] = dict(x=x1 / W, y=1 - y0 / H, xanchor="right", yanchor="top",
                                bgcolor="white", bordercolor="#555555", borderwidth=1,
                                font=dict(size=22, family=FONT, color="black"), itemwidth=72,
                                tracegroupgap=0)

fig.update_layout(**layout)
fig.write_html("out.html", config={"displayModeBar": False},
               post_script="document.body.style.margin='0';")
